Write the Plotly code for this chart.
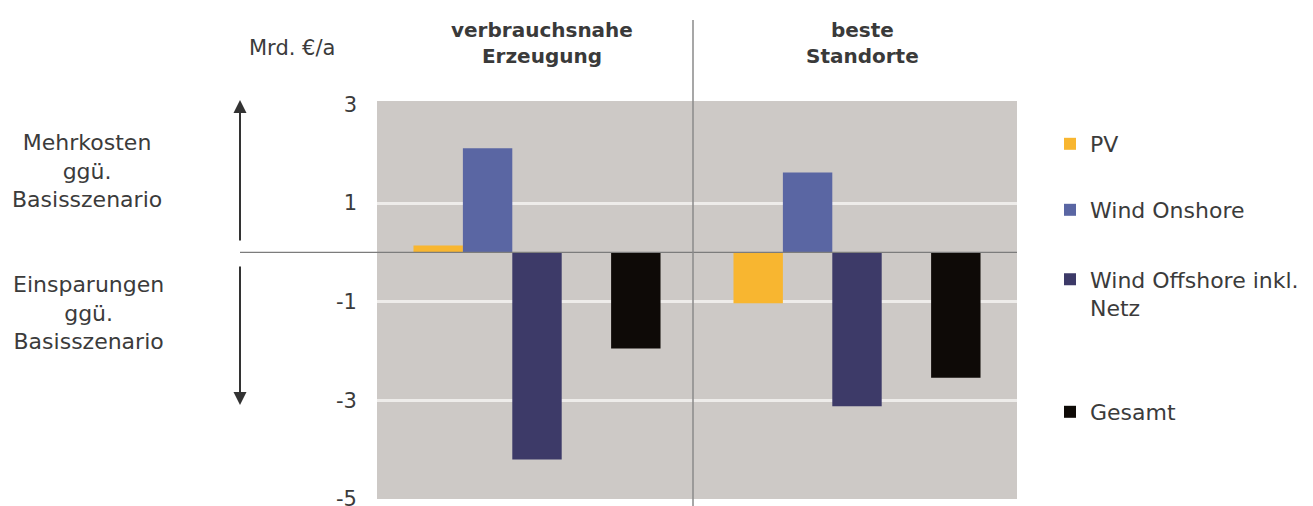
import plotly.graph_objects as go

# ---- data ----
groups = ["verbrauchsnahe Erzeugung", "beste Standorte"]
group_headers = ["verbrauchsnahe<br>Erzeugung", "beste<br>Standorte"]
series_names = ["PV", "Wind Onshore", "Wind Offshore inkl.<br>Netz", "Gesamt"]
pv = [0.14, -1.03]
wind_onshore = [2.11, 1.62]
wind_offshore = [-4.20, -3.12]
gesamt = [-1.95, -2.54]
y_ticks = [3, 1, -1, -3, -5]
y_tick_labels = ["3", "1", "-1", "-3", "-5"]
unit_label = "Mrd. €/a"
upper_label = "Mehrkosten<br>ggü.<br>Basisszenario"
lower_label = "Einsparungen<br>ggü.<br>Basisszenario"

colors = ["#F8B630", "#5A66A3", "#3D3A68", "#0E0A07"]
FONT = "DejaVu Sans"
TXT = "#3b3b3b"

fig = go.Figure()
values = [pv, wind_onshore, wind_offshore, gesamt]
legends = ["legend", "legend2", "legend3", "legend4"]
for i in range(3):
    fig.add_trace(go.Bar(x=groups, y=values[i], name=series_names[i],
                         marker=dict(color=colors[i], line=dict(width=0)),
                         legend=legends[i]))
# spacer slot between offshore and total
fig.add_trace(go.Bar(x=groups, y=[0, 0], showlegend=False, hoverinfo="skip",
                     marker=dict(color="rgba(0,0,0,0)", line=dict(width=0))))
fig.add_trace(go.Bar(x=groups, y=values[3], name=series_names[3],
                     marker=dict(color=colors[3], line=dict(width=0)),
                     legend=legends[3]))

L, R, T, B = 377, 296, 101, 7
W, H = 1313, 506
pw, ph = W - L - R, H - T - B
def px_x(p):
    return (p - L) / pw
def px_y(p):
    return (H - B - p) / ph

leg_common = dict(font=dict(family=FONT, size=22, color=TXT), bgcolor="rgba(0,0,0,0)",
                  xanchor="left", yanchor="middle", x=px_x(1050), valign="top",
                  itemclick=False, itemdoubleclick=False)

fig.update_layout(
    width=W, height=H,
    margin=dict(l=L, r=R, t=T, b=B, autoexpand=False),
    paper_bgcolor="white", plot_bgcolor="#CDC9C6",
    barmode="group", bargap=0.228, bargroupgap=0,
    font=dict(family=FONT, color=TXT),
    showlegend=True,
    legend=dict(leg_common, y=px_y(144)),
    legend2=dict(leg_common, y=px_y(210)),
    legend3=dict(leg_common, y=px_y(294)),
    legend4=dict(leg_common, y=px_y(412)),
    xaxis=dict(showticklabels=False, showgrid=False, zeroline=False, ticks="",
               range=[-0.5, 1.5], fixedrange=True, automargin=False),
    yaxis=dict(range=[-5.001, 3.07], tickmode="array", tickvals=y_ticks, ticktext=y_tick_labels,
               showgrid=False, zeroline=False, ticks="", ticklabelstandoff=19,
               ticklabeloverflow="allow", automargin=False,
               tickfont=dict(family=FONT, size=21, color=TXT),
               minor=dict(tickmode="array", tickvals=[1, -1, -3], showgrid=True,
                          gridcolor="#EEECEA", gridwidth=3, ticks=""),
               fixedrange=True),
)

# zero line extending to the left
fig.add_shape(type="line", xref="paper", yref="y", x0=px_x(240), x1=1, y0=0, y1=0,
              line=dict(color="#7c7c7c", width=1.2), layer="above")
# vertical divider between groups
fig.add_shape(type="line", xref="paper", yref="paper", x0=px_x(693), x1=px_x(693),
              y0=px_y(20), y1=px_y(H + 2), line=dict(color="#8a8a8a", width=1.5), layer="above")

# group headers
for g, h in zip(groups, group_headers):
    fig.add_annotation(x=g, xref="x", y=px_y(43), yref="paper", text="<b>" + h + "</b>",
                       showarrow=False, xshift=5, xanchor="center", yanchor="middle",
                       font=dict(family=FONT, size=20, color="#3a3a3a"))

fig.add_annotation(x=px_x(292), y=px_y(48), xref="paper", yref="paper", text=unit_label,
                   showarrow=False, xanchor="center", yanchor="middle",
                   font=dict(family=FONT, size=21, color=TXT))
fig.add_annotation(x=px_x(87), y=px_y(171), xref="paper", yref="paper", text=upper_label,
                   showarrow=False, align="center", xanchor="center", yanchor="middle",
                   font=dict(family=FONT, size=22, color=TXT))
fig.add_annotation(x=px_x(88), y=px_y(313), xref="paper", yref="paper", text=lower_label,
                   showarrow=False, align="center", xanchor="center", yanchor="middle",
                   font=dict(family=FONT, size=22, color=TXT))

# arrows
fig.add_annotation(x=px_x(240), y=px_y(100), xref="paper", yref="paper", text="",
                   showarrow=True, ax=0, ay=142, arrowhead=2, arrowsize=1.3, arrowwidth=2,
                   arrowcolor="#333333", standoff=0)
fig.add_annotation(x=px_x(240), y=px_y(405), xref="paper", yref="paper", text="",
                   showarrow=True, ax=0, ay=-140, arrowhead=2, arrowsize=1.3, arrowwidth=2,
                   arrowcolor="#333333", standoff=0)

fig.write_html("out.html", config={"displayModeBar": False})
